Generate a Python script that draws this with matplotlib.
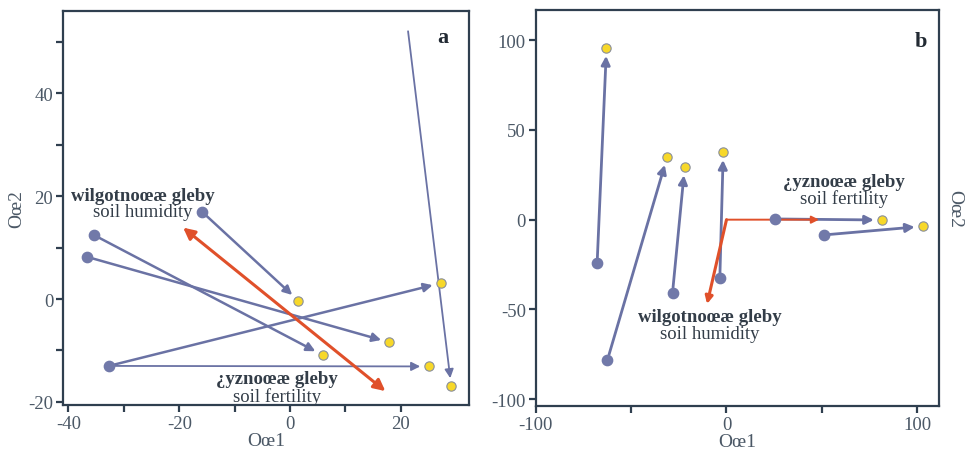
import matplotlib
matplotlib.use("Agg")
import matplotlib.pyplot as plt

plt.rcParams["font.family"] = ["Liberation Serif", "DejaVu Serif"]
plt.rcParams["axes.unicode_minus"] = False

# panel a: species shifts (start -> end)
a_start_x = [-15.9, -35.3, -36.6, -32.7, -32.7, 21.3]
a_start_y = [17.0, 12.4, 8.2, -13.0, -13.0, 52.1]
a_end_x = [1.5, 5.9, 17.9, 27.2, 25.0, 29.1]
a_end_y = [-0.3, -10.9, -8.4, 3.1, -13.1, -17.0]
a_circle = [True, True, True, True, False, False]
# environmental vector in a (double headed)
a_env = [(-19.3, 13.9), (17.2, -17.9)]

# panel b
b_start_x = [-67.8, -62.4, -28.3, -3.5, 25.5, 51.2]
b_start_y = [-24.3, -78.2, -40.9, -32.7, 0.4, -8.5]
b_end_x = [-62.9, -31.1, -21.9, -1.7, 81.6, 103.0]
b_end_y = [95.9, 35.0, 29.4, 37.9, -0.2, -3.7]
b_env_x = [48.5, -10.2]
b_env_y = [0.0, -47.0]

blue = "#6a72a4"
dot_blue = "#7179a9"
yellow = "#f7d829"
red = "#e0502a"
spine_c = "#2f3f4f"
text_c = "#4b5866"
lab_c = "#333d48"

fig = plt.figure(figsize=(9.68, 4.52), dpi=100)
ax1 = fig.add_axes([0.065, 0.1018, 0.4195, 0.8712])
ax2 = fig.add_axes([0.5534, 0.0989, 0.4169, 0.8774])


def style(ax):
    for s in ax.spines.values():
        s.set_color(spine_c)
        s.set_linewidth(1.6)
    ax.tick_params(which="both", direction="out", colors=spine_c, labelcolor=text_c,
                   labelsize=13.5, width=1.6, length=5, pad=2)


def arrow(ax, x0, y0, x1, y1, color, lw, style="-|>", sA=0, sB=6, ms=13):
    ax.annotate("", xy=(x1, y1), xytext=(x0, y0),
                arrowprops=dict(arrowstyle=style, color=color, lw=lw,
                                shrinkA=sA, shrinkB=sB, mutation_scale=ms),
                zorder=3)


def label(ax, x, y, top, bottom, dy):
    ax.text(x, y, top, ha="center", va="center", fontsize=13.5,
            fontweight="bold", color=lab_c)
    ax.text(x, y - dy, bottom, ha="center", va="center", fontsize=13.5, color=lab_c)


# ---- panel a
for i in range(len(a_start_x)):
    lw = 1.3 if i >= 4 else 1.8
    arrow(ax1, a_start_x[i], a_start_y[i], a_end_x[i], a_end_y[i], blue, lw,
          sA=4 if a_circle[i] else 0)
for i in range(len(a_start_x)):
    if a_circle[i]:
        ax1.scatter(a_start_x[i], a_start_y[i], s=55, color=dot_blue, zorder=4)
ax1.scatter(a_end_x, a_end_y, s=45, color=yellow, edgecolor="#8a8f9a", linewidth=0.8, zorder=4)
ax1.annotate("", xy=a_env[1], xytext=a_env[0],
             arrowprops=dict(arrowstyle="<|-|>", color=red, lw=2.2, shrinkA=0, shrinkB=0,
                             mutation_scale=17), zorder=3)

label(ax1, -26.5, 20.2, "wilgotnoœæ gleby", "soil humidity", 3.2)
label(ax1, -2.4, -15.5, "¿yznoœæ gleby", "soil fertility", 3.3)
ax1.text(27.5, 51.0, "a", ha="center", va="center", fontsize=16, fontweight="bold", color="#222a33")

ax1.set_xlim(-41, 32.3)
ax1.set_ylim(-20.6, 56)
ax1.set_xticks([-40, -20, 0, 20])
ax1.set_xticks([-30, -10, 10], minor=True)
ax1.set_yticks([-20, 0, 20, 40])
ax1.set_yticks([-10, 10, 30, 50], minor=True)
ax1.set_xlabel("Oœ1", fontsize=14, color=text_c, labelpad=0)
ax1.set_ylabel("Oœ2", fontsize=14, color=text_c, labelpad=2)
style(ax1)

# ---- panel b
for i in range(len(b_start_x)):
    arrow(ax2, b_start_x[i], b_start_y[i], b_end_x[i], b_end_y[i], blue, 2.0, sA=4)
ax2.scatter(b_start_x, b_start_y, s=55, color=dot_blue, zorder=4)
ax2.scatter(b_end_x, b_end_y, s=45, color=yellow, edgecolor="#8a8f9a", linewidth=0.8, zorder=4)
for i in range(len(b_env_x)):
    lw = 1.4 if i == 0 else 2.2
    arrow(ax2, 0, 0, b_env_x[i], b_env_y[i], red, lw, sB=0, ms=11)

label(ax2, 61.5, 21.2, "¿yznoœæ gleby", "soil fertility", 9.1)
label(ax2, -8.8, -53.9, "wilgotnoœæ gleby", "soil humidity", 9.4)
ax2.text(101.7, 99.8, "b", ha="center", va="center", fontsize=16, fontweight="bold", color="#222a33")

ax2.set_xlim(-100, 111.5)
ax2.set_ylim(-104, 117)
ax2.set_xticks([-100, 0, 100])
ax2.set_xticks([-50, 50], minor=True)
ax2.set_yticks([-100, -50, 0, 50, 100])
ax2.set_xlabel("Oœ1", fontsize=14, color=text_c, labelpad=0)
ax2.yaxis.set_label_position("right")
ax2.set_ylabel("Oœ2", fontsize=14, color=text_c, rotation=270, labelpad=17)
style(ax2)

fig.savefig("out.png", dpi=100)
